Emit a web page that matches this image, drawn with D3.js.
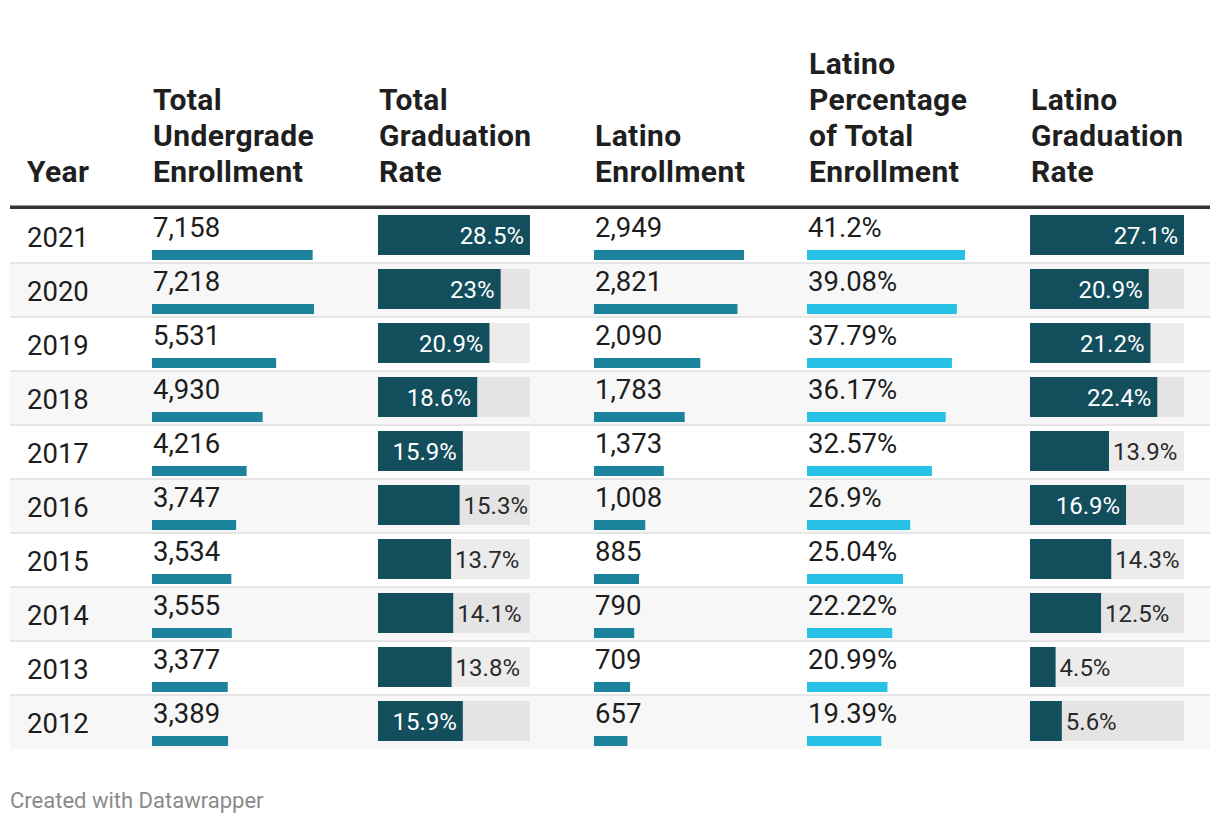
<!DOCTYPE html>
<html>
<head>
<meta charset="utf-8">
<script src="https://cdn.jsdelivr.net/npm/d3@7"></script>
<style>
  html, body { margin: 0; padding: 0; background: #fff; }
  svg { display: block; font-family: Roboto, "Noto Sans", sans-serif; }
</style>
</head>
<body>
<svg id="chart" width="1220" height="824"></svg>
<script>
// ---- data ----
const years = [2021, 2020, 2019, 2018, 2017, 2016, 2015, 2014, 2013, 2012];
const totalEnrollment = [7158, 7218, 5531, 4930, 4216, 3747, 3534, 3555, 3377, 3389];
const totalGradRate = [28.5, 23, 20.9, 18.6, 15.9, 15.3, 13.7, 14.1, 13.8, 15.9];
const latinoEnrollment = [2949, 2821, 2090, 1783, 1373, 1008, 885, 790, 709, 657];
const latinoPctOfTotal = [41.2, 39.08, 37.79, 36.17, 32.57, 26.9, 25.04, 22.22, 20.99, 19.39];
const latinoGradRate = [27.1, 20.9, 21.2, 22.4, 13.9, 16.9, 14.3, 12.5, 4.5, 5.6];
const headers = [
  ["Year"],
  ["Total", "Undergrade", "Enrollment"],
  ["Total", "Graduation", "Rate"],
  ["Latino", "Enrollment"],
  ["Latino", "Percentage", "of Total", "Enrollment"],
  ["Latino", "Graduation", "Rate"]
];
const footer = "Created with Datawrapper";

// ---- layout ----
const svg = d3.select("#chart");
const tableLeft = 10, tableRight = 1210;
const headerBaseline = 182, headerLineH = 36;
const ruleY = 207.5;
const firstRowTop = 209, rowH = 54;
const colX = [27, 153, 378, 595, 808, 1030];
const headerX = [27, 153, 379, 595, 809, 1031];

const C = {
  text: "#1d1d1d",
  dark: "#124e5c",
  mid: "#1b839b",
  cyan: "#27c1e6",
  stripe: "#f7f7f7",
  sep: "#e6e6e6",
  barBg: "rgba(0,0,0,0.075)"
};

const fmtInt = d3.format(",");
const fmtPct = v => String(v) + "%";

const yRow = d3.scaleBand().domain(years).range([firstRowTop, firstRowTop + rowH * years.length]).padding(0);

// scales
const xTotEnr = d3.scaleLinear().domain([0, d3.max(totalEnrollment)]).range([0, 162]);
const xTotGrad = d3.scaleLinear().domain([0, d3.max(totalGradRate)]).range([0, 152]);
const xLatEnr = d3.scaleLinear().domain([0, d3.max(latinoEnrollment)]).range([0, 150]);
const xLatPct = d3.scaleLinear().domain([0, d3.max(latinoPctOfTotal)]).range([0, 158]);
const xLatGrad = d3.scaleLinear().domain([0, d3.max(latinoGradRate)]).range([0, 154]);

// headers
headers.forEach((lines, i) => {
  const n = lines.length;
  const t = svg.append("text")
    .attr("x", headerX[i])
    .attr("font-weight", 700)
    .attr("font-size", 30)
    .attr("letter-spacing", 0.4)
    .attr("fill", "#1f1f1f");
  lines.forEach((ln, j) => {
    t.append("tspan").attr("x", headerX[i])
      .attr("y", headerBaseline - (n - 1 - j) * headerLineH)
      .text(ln);
  });
});

// row backgrounds & separators
const rows = svg.append("g").selectAll("g.row").data(years).join("g").attr("class", "row");
rows.append("rect")
  .attr("x", tableLeft).attr("width", tableRight - tableLeft)
  .attr("y", d => yRow(d)).attr("height", yRow.bandwidth())
  .attr("fill", (d, i) => i % 2 === 1 ? C.stripe : "#fff");
rows.filter((d, i) => i > 0).append("rect")
  .attr("x", tableLeft).attr("width", tableRight - tableLeft)
  .attr("y", d => yRow(d) - 1).attr("height", 2)
  .attr("fill", C.sep);

// header rule
svg.append("rect").attr("x", tableLeft).attr("width", tableRight - tableLeft)
  .attr("y", ruleY - 2).attr("height", 3.5).attr("fill", "#333");

// year column
rows.append("text").attr("x", colX[0]).attr("y", d => yRow(d) + 38)
  .attr("font-size", 27.5).attr("fill", C.text).text(d => d);

// value + thin bar columns
function thinCol(x, vals, scale, color, fmt) {
  const g = svg.append("g");
  g.selectAll("text").data(years).join("text")
    .attr("x", x).attr("y", (d, i) => yRow(d) + 28)
    .attr("font-size", 27.5).attr("fill", C.text)
    .text((d, i) => fmt(vals[i]));
  g.selectAll("rect").data(years).join("rect")
    .attr("x", x - 1).attr("y", d => yRow(d) + 41)
    .attr("height", 10)
    .attr("width", (d, i) => scale(vals[i]))
    .attr("fill", color);
}
thinCol(colX[1], totalEnrollment, xTotEnr, C.mid, fmtInt);
thinCol(colX[3], latinoEnrollment, xLatEnr, C.mid, fmtInt);
thinCol(colX[4], latinoPctOfTotal, xLatPct, C.cyan, fmtPct);

// big bar columns
function bigCol(x, vals, scale) {
  const g = svg.append("g");
  const cells = g.selectAll("g").data(years).join("g")
    .attr("transform", d => `translate(${x},${yRow(d) + 6})`);
  cells.append("rect").attr("width", scale.range()[1]).attr("height", 40).attr("fill", C.barBg);
  cells.append("rect").attr("width", (d, i) => scale(vals[i])).attr("height", 40).attr("fill", C.dark);
  cells.append("text")
    .attr("y", 29)
    .attr("font-size", 24)
    .text((d, i) => fmtPct(vals[i]))
    .each(function (d, i) {
      const w = scale(vals[i]);
      const tw = this.getComputedTextLength();
      const sel = d3.select(this);
      if (w > tw + 18) {
        sel.attr("x", w - 6).attr("text-anchor", "end").attr("fill", "#fff");
      } else {
        sel.attr("x", w + 4).attr("text-anchor", "start").attr("fill", "#2a2a2a");
      }
    });
}
bigCol(colX[2], totalGradRate, xTotGrad);
bigCol(colX[5], latinoGradRate, xLatGrad);

// footer
svg.append("text").attr("x", 10).attr("y", 808)
  .attr("font-size", 22).attr("fill", "#8a8a8a").text(footer);
</script>
</body>
</html>
